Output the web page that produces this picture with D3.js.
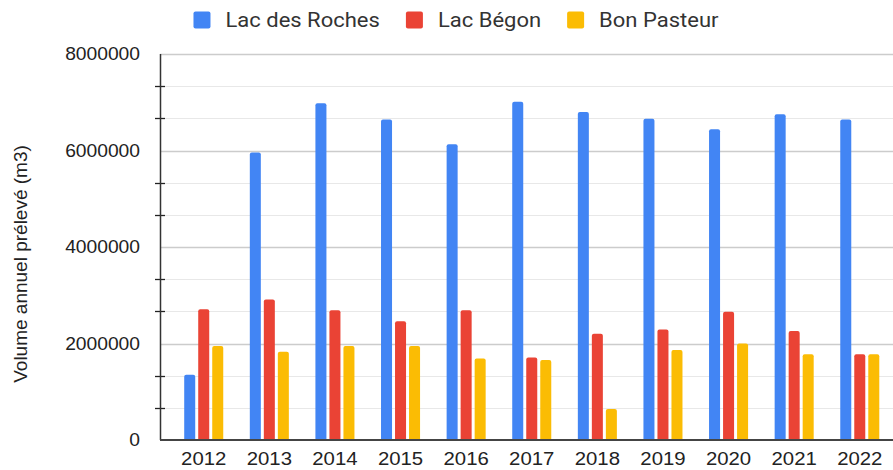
<!DOCTYPE html>
<html>
<head>
<meta charset="utf-8">
<script src="https://cdn.jsdelivr.net/npm/d3@7"></script>
<style>
  html, body { margin: 0; padding: 0; background: #fff; }
  svg { display: block; }
</style>
</head>
<body>
<svg id="chart" width="893" height="470"></svg>
<script>
const years = ['2012','2013','2014','2015','2016','2017','2018','2019','2020','2021','2022'];
const seriesNames = ['Lac des Roches', 'Lac Bégon', 'Bon Pasteur'];
const lacDesRoches = [1350000, 5960000, 6980000, 6640000, 6130000, 7010000, 6800000, 6660000, 6440000, 6750000, 6640000];
const lacBegon     = [2710000, 2910000, 2690000, 2460000, 2690000, 1710000, 2200000, 2290000, 2660000, 2260000, 1775000];
const bonPasteur   = [1950000, 1830000, 1950000, 1950000, 1690000, 1660000,  640000, 1865000, 2000000, 1775000, 1775000];
const yTicks = [0, 2000000, 4000000, 6000000, 8000000];
const yTitle = 'Volume annuel prélevé (m3)';
const colors = ['#4285F4', '#EA4335', '#FBBC04'];

const seriesValues = [lacDesRoches, lacBegon, bonPasteur];
const SX = 1.1; // horizontal glyph stretch seen in the reference

const svg = d3.select('#chart');

const y = d3.scaleLinear().domain([0, 8000000]).range([440, 54]);
const x0 = d3.scaleBand().domain(years).range([160, 903.5]).paddingInner(0.405).paddingOuter(0.369);
const x1 = d3.scaleBand().domain(seriesNames).range([0, x0.bandwidth()]).paddingInner(0.214);

// gridlines
const minorStep = 8000000 / 12;
const allLines = d3.range(0, 12).map(i => i * minorStep).concat([8000000]);
const isMajor = v => yTicks.some(t => Math.abs(t - v) < 1);
svg.append('g').selectAll('line')
  .data(allLines.filter(v => v > 0))
  .join('line')
  .attr('x1', 160).attr('x2', 893)
  .attr('y1', d => Math.round(y(d)) + 0.5).attr('y2', d => Math.round(y(d)) + 0.5)
  .attr('stroke', d => isMajor(d) ? '#cccccc' : '#e8e8e8')
  .attr('stroke-width', d => isMajor(d) ? 1.3 : 1);

// bars with rounded top corners
function barPath(x, w, yTop, yBot, r) {
  r = Math.min(r, w / 2, (yBot - yTop));
  return `M${x},${yBot}V${yTop + r}Q${x},${yTop} ${x + r},${yTop}H${x + w - r}Q${x + w},${yTop} ${x + w},${yTop + r}V${yBot}Z`;
}
const barData = [];
years.forEach((yr, i) => {
  seriesNames.forEach((s, j) => {
    barData.push({ year: yr, series: s, value: seriesValues[j][i], color: colors[j] });
  });
});
svg.append('g').selectAll('path')
  .data(barData)
  .join('path')
  .attr('d', d => barPath(x0(d.year) + x1(d.series), x1.bandwidth(), y(d.value), y(0), 2))
  .attr('fill', d => d.color);

// left axis labels
const yAxis = d3.axisLeft(y).tickValues(yTicks).tickSize(0).tickPadding(20).tickFormat(d3.format('d'));
const gy = svg.append('g').attr('transform', 'translate(160,0)').call(yAxis);
gy.select('.domain').remove();
gy.selectAll('text')
  .attr('x', 0)
  .attr('transform', `translate(-20,0) scale(${SX},1)`)
  .attr('font-family', '"Liberation Sans", Arial, sans-serif')
  .attr('font-size', 17.5)
  .attr('fill', '#222');

// minor tick marks on the axis
svg.append('g').selectAll('line')
  .data(allLines.filter(v => !isMajor(v)))
  .join('line')
  .attr('x1', 155).attr('x2', 165)
  .attr('y1', d => Math.round(y(d)) + 0.5).attr('y2', d => Math.round(y(d)) + 0.5)
  .attr('stroke', '#222').attr('stroke-width', 1.3);

// vertical axis line
svg.append('line')
  .attr('x1', 160.5).attr('x2', 160.5)
  .attr('y1', y(8000000)).attr('y2', y(0))
  .attr('stroke', '#333').attr('stroke-width', 1.5);

// bottom axis
const xAxis = d3.axisBottom(x0).tickSize(0).tickPadding(0);
const gx = svg.append('g').attr('transform', 'translate(0,440)').call(xAxis);
gx.select('.domain').remove();
gx.selectAll('text')
  .attr('y', 25).attr('dy', 0)
  .attr('transform', `scale(${SX},1)`)
  .attr('font-family', '"Liberation Sans", Arial, sans-serif')
  .attr('font-size', 18.5)
  .attr('fill', '#222');
svg.append('line')
  .attr('x1', 160).attr('x2', 893)
  .attr('y1', 440).attr('y2', 440)
  .attr('stroke', '#444').attr('stroke-width', 2);

// y title
svg.append('text')
  .attr('transform', 'translate(27,264) rotate(-90)')
  .attr('text-anchor', 'middle')
  .attr('font-family', '"Liberation Sans", Arial, sans-serif')
  .attr('font-size', 19)
  .attr('fill', '#222')
  .text(yTitle);

// legend
const legend = svg.append('g');
const legendFont = 'Roboto, "Noto Sans", sans-serif';
const sq = 17, gapSqText = 15, gapItems = 26;
const items = seriesNames.map((name, i) => {
  const t = legend.append('text')
    .attr('font-family', legendFont).attr('font-size', 20)
    .attr('fill', '#333').text(name);
  const w = t.node().getComputedTextLength() * SX;
  return { name, color: colors[i], t, w };
});
const total = d3.sum(items, d => sq + gapSqText + d.w) + gapItems * (items.length - 1);
let cx = 456 - total / 2;
items.forEach(it => {
  legend.append('rect')
    .attr('x', cx).attr('y', 11.5).attr('width', sq).attr('height', sq)
    .attr('rx', 2).attr('fill', it.color);
  const tx = cx + sq + gapSqText;
  it.t.attr('transform', `translate(${tx},27) scale(${SX},1)`);
  cx = tx + it.w + gapItems;
});
</script>
</body>
</html>
